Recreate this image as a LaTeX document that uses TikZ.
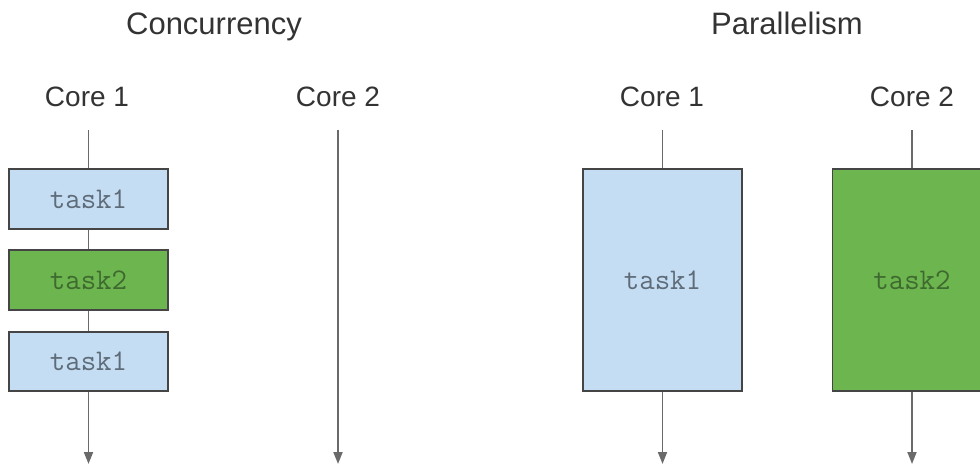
\documentclass[tikz,border=0pt]{standalone}
\usepackage{fontspec}
\setmainfont{Liberation Sans}
\usetikzlibrary{arrows.meta}
\definecolor{lineg}{HTML}{6A6A6A}
\definecolor{boxb}{HTML}{454545}
\definecolor{bluef}{HTML}{C4DDF3}
\definecolor{greenf}{HTML}{6DB54E}
\definecolor{bluet}{HTML}{5E6B78}
\definecolor{greent}{HTML}{3E6A30}
\definecolor{textg}{HTML}{333333}
\tikzset{
  title/.style={font=\fontsize{31}{36}\selectfont, text=textg, inner sep=0pt, anchor=base},
  corelabel/.style={font=\fontsize{28}{32}\selectfont, text=textg, inner sep=0pt, anchor=base},
  taskbox/.style={draw=boxb, line width=1.5pt, rectangle, inner sep=0pt,
    font=\ttfamily\fontsize{30}{32}\selectfont, minimum width=159pt},
  bluebox/.style={taskbox, fill=bluef, text=bluet},
  greenbox/.style={taskbox, fill=greenf, text=greent},
  timeline/.style={draw=lineg, line width=1.8pt},
  timearrow/.style={timeline, -{Triangle[length=12pt,width=9pt]}}
}
\begin{document}
\begin{tikzpicture}[x=1pt,y=-1pt]
\useasboundingbox (0,0) rectangle (980,465);
% titles
\node[title] (tconc) at (214,35) {Concurrency};
\node[title] (tpar) at (787,35) {Parallelism};
% core labels
\node[corelabel] (l1) at (87,107) {Core 1};
\node[corelabel] (l2) at (338,107) {Core 2};
\node[corelabel] (r1) at (662,107) {Core 1};
\node[corelabel] (r2) at (912,107) {Core 2};
% concurrency boxes
\node[bluebox, minimum height=60pt] (a1) at (88.5,199) {task1};
\node[greenbox, minimum height=60pt] (a2) at (88.5,280) {task2};
\node[bluebox, minimum height=59pt] (a3) at (88.5,361.5) {task1};
% parallelism boxes
\node[bluebox, minimum height=222pt] (p1) at (662.5,280) {task1};
\node[greenbox, minimum height=222pt] (p2) at (912,280) {task2};
% coordinates
\coordinate (l1top) at (88.5,130);
\coordinate (l1end) at (88.5,464);
\coordinate (l2top) at (338,130);
\coordinate (l2end) at (338,464);
\coordinate (r1top) at (662.5,130);
\coordinate (r1end) at (662.5,464);
\coordinate (r2top) at (912,130);
\coordinate (r2end) at (912,464);
% timelines
\draw[timeline] (l1top) -- (a1.north);
\draw[timeline] (a1.south) -- (a2.north);
\draw[timeline] (a2.south) -- (a3.north);
\draw[timearrow] (a3.south) -- (l1end);
\draw[timearrow] (l2top) -- (l2end);
\draw[timeline] (r1top) -- (p1.north);
\draw[timearrow] (p1.south) -- (r1end);
\draw[timeline] (r2top) -- (p2.north);
\draw[timearrow] (p2.south) -- (r2end);
\end{tikzpicture}
\end{document}
